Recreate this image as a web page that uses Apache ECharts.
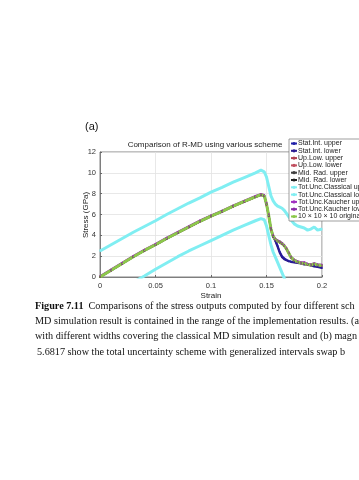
<!DOCTYPE html>
<html><head><meta charset="utf-8">
<script src="https://cdn.jsdelivr.net/npm/echarts@6/dist/echarts.min.js"></script>
<style>html,body{margin:0;padding:0;background:#fff;}#c{width:359px;height:480px;}</style>
</head><body><div id="c"></div>
<script>
const strain = [0,0.01,0.02,0.03,0.04,0.05,0.06,0.07,0.08,0.09,0.10,0.11,0.12,0.13,0.14,0.145,0.148,0.150,0.152,0.154,0.156,0.158,0.160,0.162,0.164,0.166,0.168,0.170,0.172,0.175,0.178,0.181,0.184,0.187,0.190,0.193,0.196,0.2];
const xTicks = ['0','0.05','0.1','0.15','0.2'];
const yTicks = ['0','2','4','6','8','10','12'];
const original = [0,0.65,1.3,1.95,2.55,3.1,3.7,4.25,4.8,5.35,5.85,6.3,6.8,7.25,7.7,7.9,7.8,7.0,5.9,4.6,3.9,3.6,3.45,3.35,3.2,3.0,2.7,2.3,1.9,1.6,1.45,1.35,1.3,1.2,1.15,1.25,1.15,1.1];
const statIntUpper = [0.02,0.66,1.31,1.96,2.56,3.11,3.71,4.26,4.81,5.36,5.86,6.31,6.81,7.26,7.71,7.91,7.81,7.0,5.9,4.6,3.9,3.5,3.0,2.4,2.0,1.8,1.65,1.55,1.5,1.45,1.4,1.35,1.3,1.25,1.15,1.1,1.0,0.9];
const statIntLower = [0,0.63,1.28,1.93,2.53,3.08,3.68,4.23,4.78,5.33,5.83,6.28,6.78,7.23,7.68,7.88,7.78,6.95,5.85,4.55,3.85,3.45,2.9,2.3,1.9,1.7,1.6,1.5,1.45,1.4,1.35,1.3,1.2,1.2,1.1,1.0,0.95,0.85];
const upLowUpper = [0.05,0.7,1.35,2.0,2.6,3.15,3.75,4.3,4.85,5.4,5.9,6.35,6.85,7.3,7.75,7.95,7.85,7.1,6.0,4.7,4.0,3.65,3.5,3.4,3.25,3.05,2.75,2.35,1.95,1.65,1.5,1.4,1.35,1.25,1.2,1.3,1.2,1.15];
const upLowLower = [0,0.6,1.25,1.9,2.5,3.05,3.65,4.2,4.75,5.3,5.8,6.25,6.75,7.2,7.65,7.85,7.75,6.9,5.8,4.5,3.85,3.55,3.4,3.3,3.15,2.95,2.65,2.25,1.85,1.55,1.4,1.3,1.25,1.15,1.1,1.2,1.1,1.05];
const midRadUpper = [0.04,0.68,1.33,1.98,2.58,3.13,3.73,4.28,4.83,5.38,5.88,6.33,6.83,7.28,7.73,7.93,7.83,7.05,5.95,4.65,3.95,3.62,3.48,3.38,3.22,3.02,2.72,2.32,1.92,1.62,1.47,1.37,1.32,1.22,1.17,1.27,1.17,1.12];
const midRadLower = [0,0.62,1.27,1.92,2.52,3.07,3.67,4.22,4.77,5.32,5.82,6.27,6.77,7.22,7.67,7.87,7.77,6.95,5.85,4.55,3.87,3.57,3.42,3.32,3.17,2.97,2.67,2.27,1.87,1.57,1.42,1.32,1.27,1.17,1.12,1.22,1.12,1.07];
const classicalUpper = [2.5,3.1,3.7,4.3,4.85,5.4,6.0,6.55,7.1,7.6,8.15,8.6,9.1,9.55,10.0,10.25,10.1,9.6,8.7,7.8,7.3,7.0,6.8,6.7,6.6,6.4,6.1,5.8,5.5,5.1,4.9,4.8,4.7,4.5,4.6,4.8,4.5,4.6];
const classicalLower = [-2.4,-1.8,-1.2,-0.5,0.1,0.75,1.35,1.95,2.5,3.0,3.5,4.0,4.5,4.95,5.4,5.6,5.5,4.9,4.0,3.1,2.4,1.9,1.4,0.9,0.4,-0.1,-0.6,-1.0,-1.4,-1.9,-2.2,-2.5,-2.7,-2.9,-3.1,-3.2,-3.4,-3.5];
const kaucherUpper = [0.1,0.75,1.4,2.05,2.65,3.2,3.8,4.35,4.9,5.45,5.95,6.4,6.9,7.35,7.8,8.0,7.9,7.15,6.05,4.75,4.05,3.7,3.55,3.45,3.3,3.1,2.8,2.4,2.0,1.7,1.55,1.45,1.45,1.3,1.25,1.35,1.25,1.2];
const kaucherLower = [-0.05,0.6,1.25,1.9,2.5,3.05,3.65,4.2,4.75,5.3,5.8,6.25,6.75,7.2,7.65,7.85,7.75,6.95,5.85,4.55,3.85,3.55,3.4,3.3,3.15,2.95,2.65,2.25,1.85,1.55,1.4,1.3,1.25,1.15,1.1,1.2,1.1,1.05];

const seriesDefs = [
  {name:'Stat.Int. upper', data:statIntUpper, color:'#2020a8', w:2},
  {name:'Stat.Int. lower', data:statIntLower, color:'#2a1a90', w:2},
  {name:'Up.Low. upper', data:upLowUpper, color:'#b04050', w:1.4},
  {name:'Up.Low. lower', data:upLowLower, color:'#c05060', w:1.4},
  {name:'Mid. Rad. upper', data:midRadUpper, color:'#404040', w:1.4},
  {name:'Mid. Rad. lower', data:midRadLower, color:'#202020', w:1.4},
  {name:'Tot.Unc.Classical upper', data:classicalUpper, color:'#80eef2', w:3},
  {name:'Tot.Unc.Classical lower', data:classicalLower, color:'#80eef2', w:3},
  {name:'Tot.Unc.Kaucher upper', data:kaucherUpper, color:'#a030c0', w:1.4},
  {name:'Tot.Unc.Kaucher lower', data:kaucherLower, color:'#8a2aa8', w:1.4},
  {name:'10 \u00d7 10 \u00d7 10 original', data:original, color:'#8cc84a', w:3}
];
const drawOrder = [6,7,0,1,2,3,4,5,8,9,10];

const chart = echarts.init(document.getElementById('c'), null, {renderer:'canvas'});
const sans = 'Liberation Sans, Arial, sans-serif';
const serif = 'Liberation Serif, Times New Roman, serif';
const axisFont = {fontFamily:sans, fontSize:7.5, color:'#333'};
chart.setOption({
  animation:false,
  backgroundColor:'#fff',
  title:{text:'Comparison of R-MD using various scheme', left:200, top:136, textAlign:'center',
    textStyle:{fontFamily:sans, fontSize:8, fontWeight:'normal', color:'#222'}},
  grid:{left:100, right:37, top:152, bottom:203, show:true, borderColor:'#666', borderWidth:0.8, containLabel:false},
  xAxis:{type:'value', min:0, max:0.2, interval:0.05,
    name:'Strain', nameLocation:'middle', nameGap:15, nameTextStyle:{fontFamily:sans, fontSize:8, color:'#222'},
    axisLine:{lineStyle:{color:'#666', width:0.8}}, axisTick:{inside:true, length:2, lineStyle:{color:'#666'}},
    axisLabel:Object.assign({margin:5, formatter:(v)=>xTicks[Math.round(v/0.05)]}, axisFont),
    splitLine:{show:true, lineStyle:{color:'#e2e2e2', width:0.8}}},
  yAxis:{type:'value', min:0, max:12, interval:2,
    axisLine:{show:true, lineStyle:{color:'#666', width:0.8}}, axisTick:{show:true, inside:true, length:2, lineStyle:{color:'#666'}},
    axisLabel:Object.assign({margin:4, formatter:(v)=>yTicks[Math.round(v/2)]}, axisFont),
    splitLine:{show:true, lineStyle:{color:'#e2e2e2', width:0.8}}},
  legend:{orient:'vertical', left:289, top:139, itemWidth:6, itemHeight:4, itemGap:0.3, padding:[1,2,1,1],
    backgroundColor:'#fff', borderColor:'#777', borderWidth:0.7,
    data:seriesDefs.map(s=>s.name),
    textStyle:{fontFamily:sans, fontSize:7, color:'#222', lineHeight:7, padding:[0,0,0,-4]}},
  series:drawOrder.map(i=>{const s=seriesDefs[i]; return {
    name:s.name, type:'line', data:strain.map((x,k)=>[x,s.data[k]]), color:s.color,
    lineStyle:{width:s.w, color:s.color}, symbol:'circle', symbolSize:1.5, showSymbol:true,
    itemStyle:{color:s.color}, clip:true, z:2};}),
  graphic:[
    {type:'text', x:86, y:215, rotation:Math.PI/2, style:{text:'Stress (GPa)', font:'8px ' + sans, fill:'#222', align:'center', verticalAlign:'middle'}},
    {type:'text', left:85, top:121, style:{text:'(a)', font:'11px ' + sans, fill:'#111'}},
    {type:'text', left:35, top:301, style:{text:'{b|Figure 7.11}  Comparisons of the stress outputs computed by four different sch',
      rich:{b:{fontWeight:'bold', fontFamily:serif, fontSize:10.2}},
      font:'10.2px ' + serif, fill:'#111'}},
    {type:'text', left:35, top:316.3, style:{text:'MD simulation result is contained in the range of the implementation results. (a', font:'10.2px ' + serif, fill:'#111'}},
    {type:'text', left:35, top:331.6, style:{text:'with different widths covering the classical MD simulation result and (b) magn', font:'10.2px ' + serif, fill:'#111'}},
    {type:'text', left:37, top:346.9, style:{text:'5.6817 show the total uncertainty scheme with generalized intervals swap b', font:'10.2px ' + serif, fill:'#111'}}
  ]
});
</script></body></html>
